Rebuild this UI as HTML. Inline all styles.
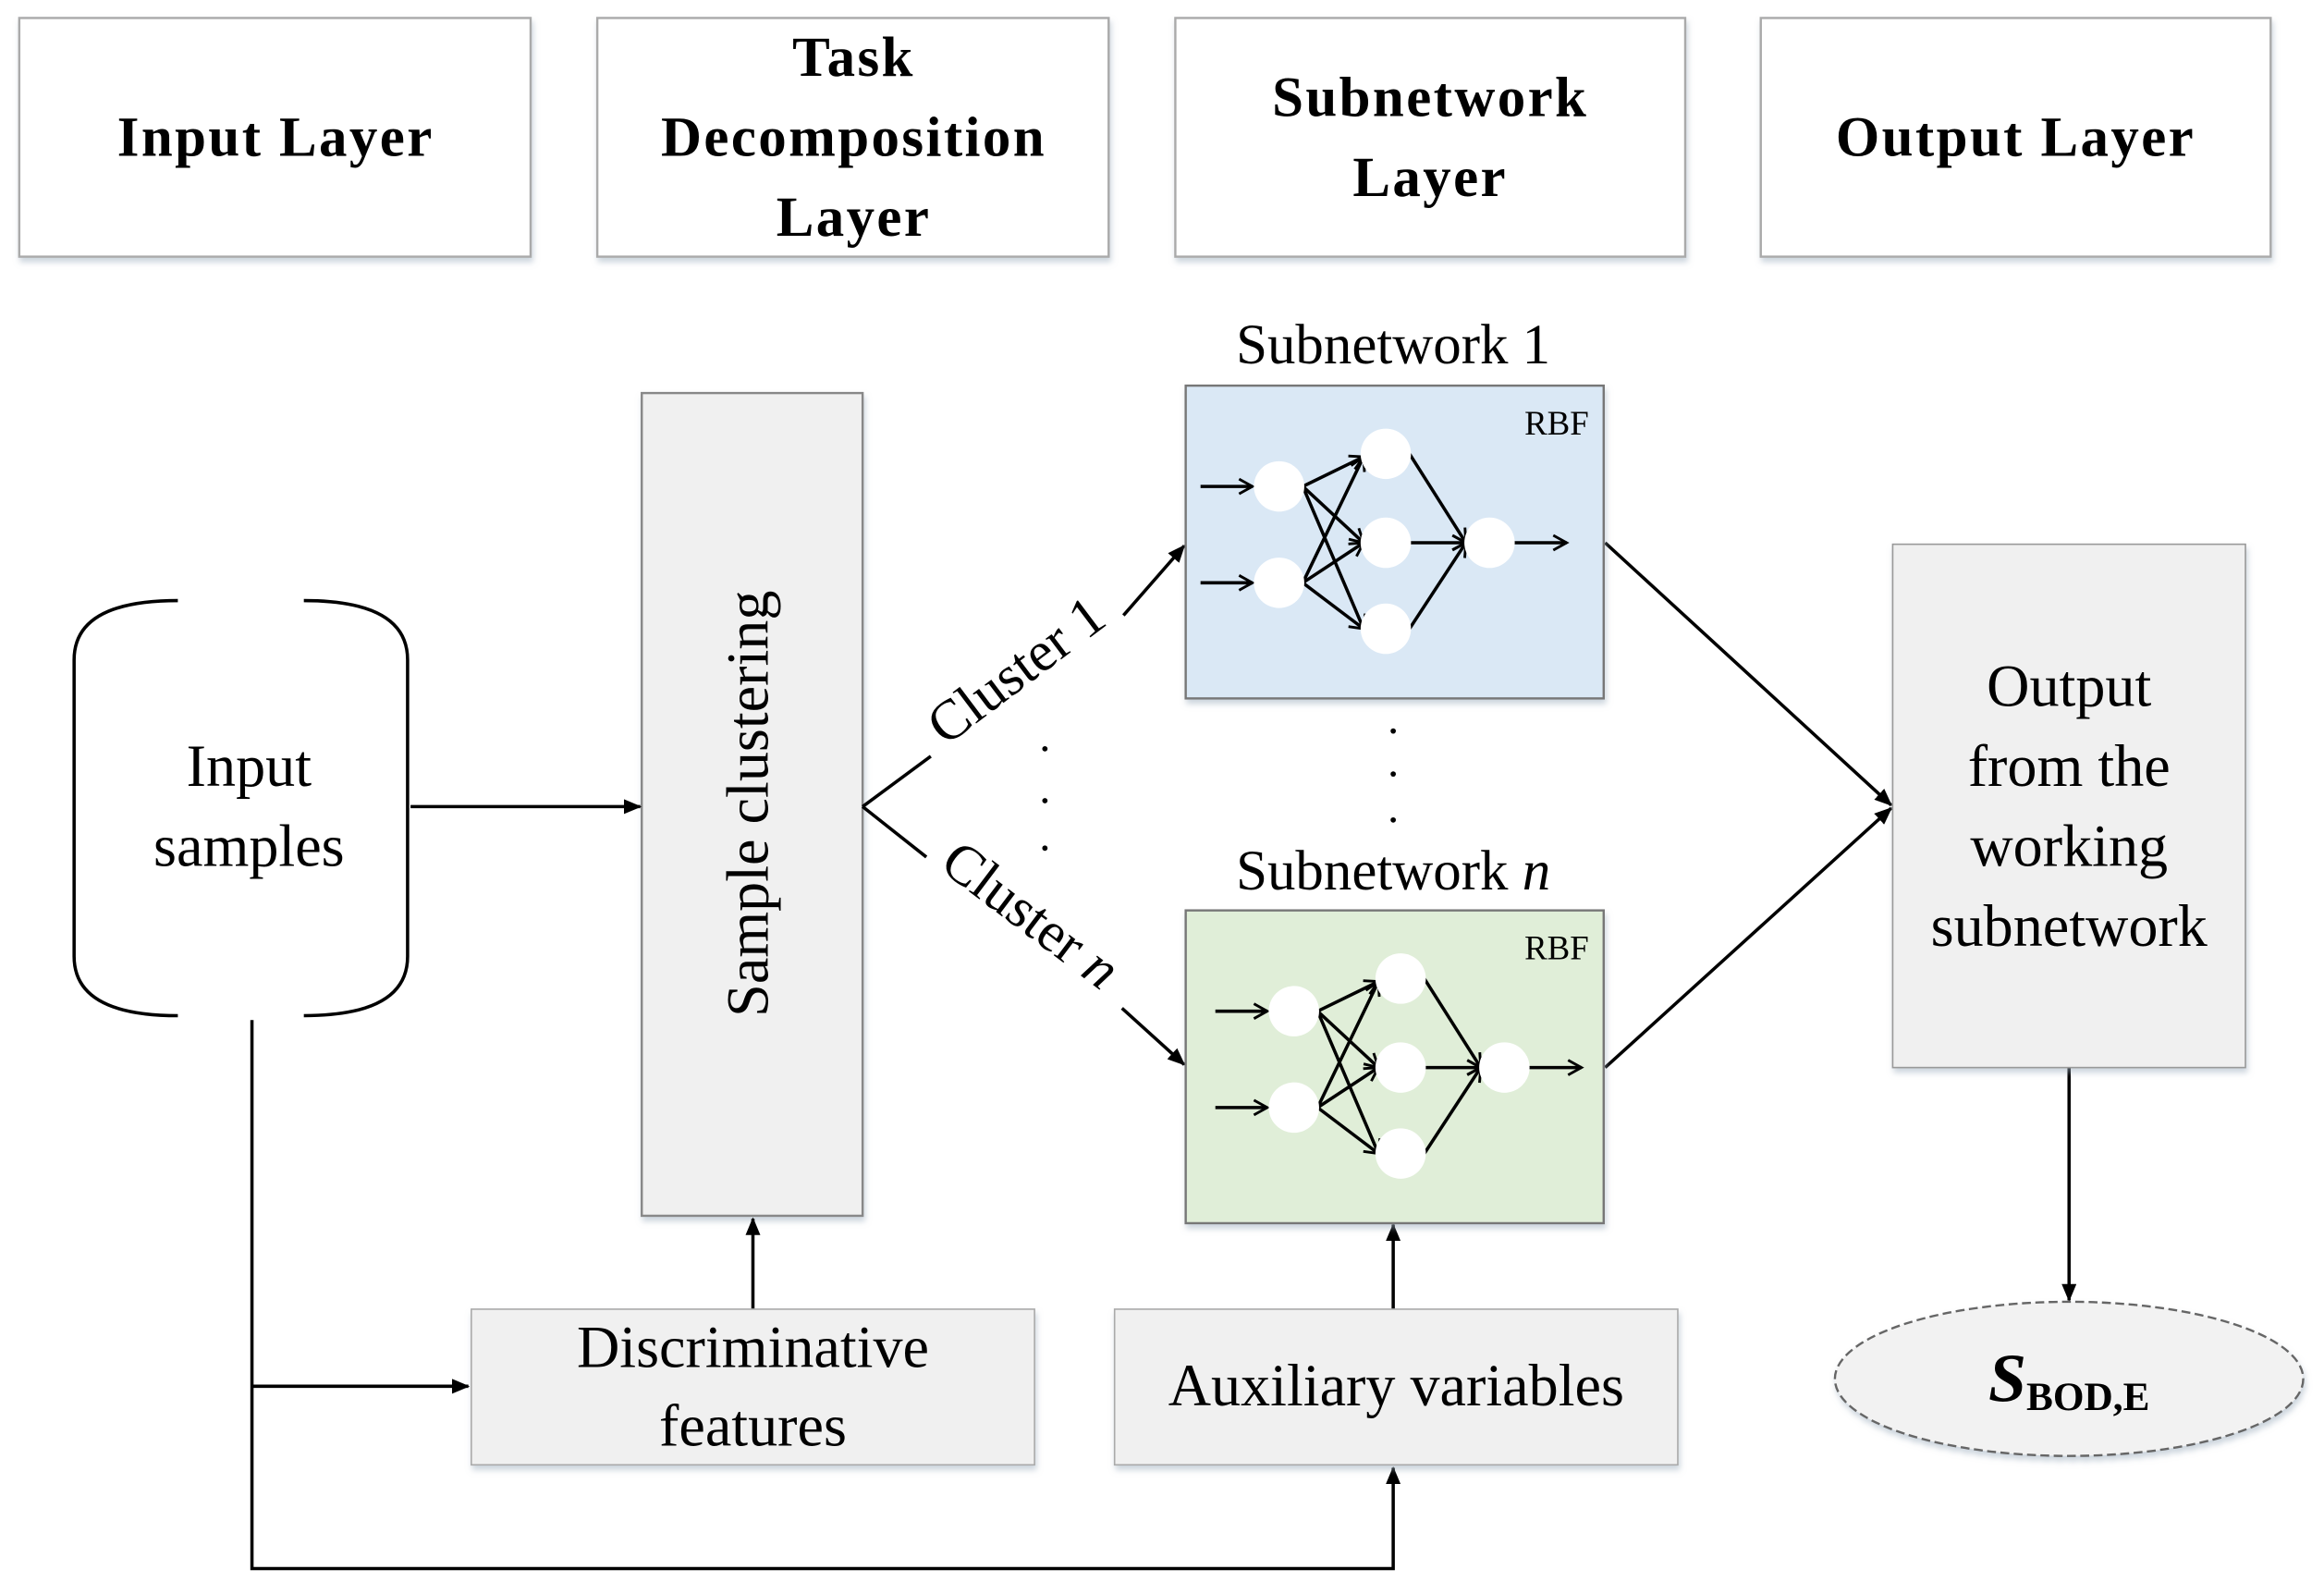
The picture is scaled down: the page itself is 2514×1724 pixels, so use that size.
<!DOCTYPE html>
<html><head><style>html,body{margin:0;padding:0;background:#fff}svg{display:block}</style></head><body>
<svg width="2514" height="1724" viewBox="0 0 1568 1075" xmlns="http://www.w3.org/2000/svg" font-family="Liberation Serif, serif">
<defs>
<marker id="a" markerWidth="12" markerHeight="10" refX="11" refY="5" orient="auto" markerUnits="userSpaceOnUse"><path d="M0,0 L12,5 L0,10 Z" fill="#000"/></marker>
<marker id="s" markerWidth="12" markerHeight="12" refX="10" refY="6" orient="auto" markerUnits="userSpaceOnUse"><path d="M1,1 L10,6 L1,11" fill="none" stroke="#000" stroke-width="1.8"/></marker>
<filter id="sh"><feDropShadow dx="1" dy="3" stdDeviation="2" flood-color="#9ab" flood-opacity="0.5"/></filter>
</defs>
<g fill="#fff" stroke="#aaa" stroke-width="1.5" filter="url(#sh)">
<rect x="13" y="12" width="345" height="161"/><rect x="403" y="12" width="345" height="161"/>
<rect x="793" y="12" width="344" height="161"/><rect x="1188" y="12" width="344" height="161"/>
</g>
<g font-weight="bold" font-size="38" text-anchor="middle" fill="#000" letter-spacing="1.5">
<text x="186" y="105">Input Layer</text>
<text x="576" y="51">Task</text><text x="576" y="105">Decomposition</text><text x="576" y="159">Layer</text>
<text x="965" y="78">Subnetwork</text><text x="965" y="132">Layer</text>
<text x="1360" y="105">Output Layer</text>
</g>
<g fill="none" stroke="#000" stroke-width="2.2">
<path d="M120,405 Q50,405 50,445 L50,645 Q50,685 120,685"/>
<path d="M205,405 Q275,405 275,445 L275,645 Q275,685 205,685"/>
</g>
<text x="168" y="530" font-size="40" text-anchor="middle">Input</text>
<text x="168" y="584" font-size="40" text-anchor="middle">samples</text>
<rect x="433" y="265" width="149" height="555" fill="#f0f0f0" stroke="#888" stroke-width="1.5" filter="url(#sh)"/>
<text transform="translate(518,542) rotate(-90)" font-size="40" text-anchor="middle">Sample clustering</text>
<g stroke="#000" stroke-width="2.2" fill="none">
<line x1="277" y1="544" x2="432" y2="544" marker-end="url(#a)"/>
<polyline points="582,544 628,510"/><line x1="758" y1="415" x2="799" y2="368" marker-end="url(#a)"/>
<polyline points="582,544 625,578"/><line x1="757" y1="680" x2="799" y2="718" marker-end="url(#a)"/>
<line x1="1083" y1="366" x2="1276" y2="543" marker-end="url(#a)"/>
<line x1="1083" y1="720" x2="1276" y2="545" marker-end="url(#a)"/>
<line x1="1396" y1="720" x2="1396" y2="877" marker-end="url(#a)"/>
<line x1="508" y1="883" x2="508" y2="822" marker-end="url(#a)"/>
<line x1="940" y1="883" x2="940" y2="826" marker-end="url(#a)"/>
<polyline points="170,688 170,1058 940,1058 940,990" marker-end="url(#a)"/>
<line x1="170" y1="935" x2="316" y2="935" marker-end="url(#a)"/>
</g>
<text transform="translate(693,462) rotate(-37)" font-size="38" text-anchor="middle">Cluster 1</text>
<text transform="translate(688,627) rotate(37)" font-size="38" text-anchor="middle">Cluster <tspan font-style="italic">n</tspan></text>
<g fill="#000"><circle cx="705" cy="505" r="1.8"/><circle cx="705" cy="540" r="1.8"/><circle cx="705" cy="572" r="1.8"/>
<circle cx="940" cy="493" r="1.8"/><circle cx="940" cy="522" r="1.8"/><circle cx="940" cy="553" r="1.8"/></g>
<text x="940" y="245" font-size="38" text-anchor="middle">Subnetwork 1</text>
<text x="940" y="600" font-size="38" text-anchor="middle">Subnetwork <tspan font-style="italic">n</tspan></text>
<rect x="800" y="260" width="282" height="211" fill="#dae8f5" stroke="#777" stroke-width="1.5" filter="url(#sh)"/>
<rect x="800" y="614" width="282" height="211" fill="#e0eed8" stroke="#777" stroke-width="1.5" filter="url(#sh)"/>
<text x="1072" y="293" font-size="23" text-anchor="end">RBF</text>
<text x="1072" y="647" font-size="23" text-anchor="end">RBF</text>
<g id="n1" stroke="#000" stroke-width="2.2" fill="none">
<line x1="810" y1="328" x2="845" y2="328" marker-end="url(#s)"/><line x1="810" y1="393" x2="845" y2="393" marker-end="url(#s)"/>
<line x1="879" y1="328" x2="920" y2="308" marker-end="url(#s)"/><line x1="879" y1="328" x2="920" y2="366" marker-end="url(#s)"/><line x1="879" y1="328" x2="920" y2="424" marker-end="url(#s)"/>
<line x1="879" y1="393" x2="920" y2="308" marker-end="url(#s)"/><line x1="879" y1="393" x2="920" y2="366" marker-end="url(#s)"/><line x1="879" y1="393" x2="920" y2="424" marker-end="url(#s)"/>
<line x1="951" y1="306" x2="989" y2="366" marker-end="url(#s)"/><line x1="951" y1="366" x2="989" y2="366" marker-end="url(#s)"/><line x1="951" y1="424" x2="989" y2="366" marker-end="url(#s)"/>
<line x1="1021" y1="366" x2="1057" y2="366" marker-end="url(#s)"/>
<g fill="#fff" stroke="none"><circle cx="863" cy="328" r="17"/><circle cx="863" cy="393" r="17"/><circle cx="935" cy="306" r="17"/><circle cx="935" cy="366" r="17"/><circle cx="935" cy="424" r="17"/><circle cx="1005" cy="366" r="17"/></g>
</g>
<use href="#n1" transform="translate(10,354)"/>
<rect x="1277" y="367" width="238" height="353" fill="#f0f0f0" stroke="#999" stroke-width="1" filter="url(#sh)"/>
<g font-size="40" text-anchor="middle"><text x="1396" y="476">Output</text><text x="1396" y="530">from the</text><text x="1396" y="584">working</text><text x="1396" y="638">subnetwork</text></g>
<ellipse cx="1396" cy="930" rx="158" ry="52" fill="#f2f2f2" stroke="#666" stroke-width="1.5" stroke-dasharray="6,3" filter="url(#sh)"/>
<text x="1396" y="945" text-anchor="middle" font-weight="bold"><tspan font-style="italic" font-size="46">S</tspan><tspan font-size="27" dy="6">BOD,E</tspan></text>
<rect x="318" y="883" width="380" height="105" fill="#f0f0f0" stroke="#aaa" stroke-width="1" filter="url(#sh)"/>
<rect x="752" y="883" width="380" height="105" fill="#f0f0f0" stroke="#aaa" stroke-width="1" filter="url(#sh)"/>
<text x="508" y="922" font-size="40" text-anchor="middle">Discriminative</text>
<text x="508" y="975" font-size="40" text-anchor="middle">features</text>
<text x="942" y="948" font-size="40" text-anchor="middle">Auxiliary variables</text>
</svg>
</body></html>
